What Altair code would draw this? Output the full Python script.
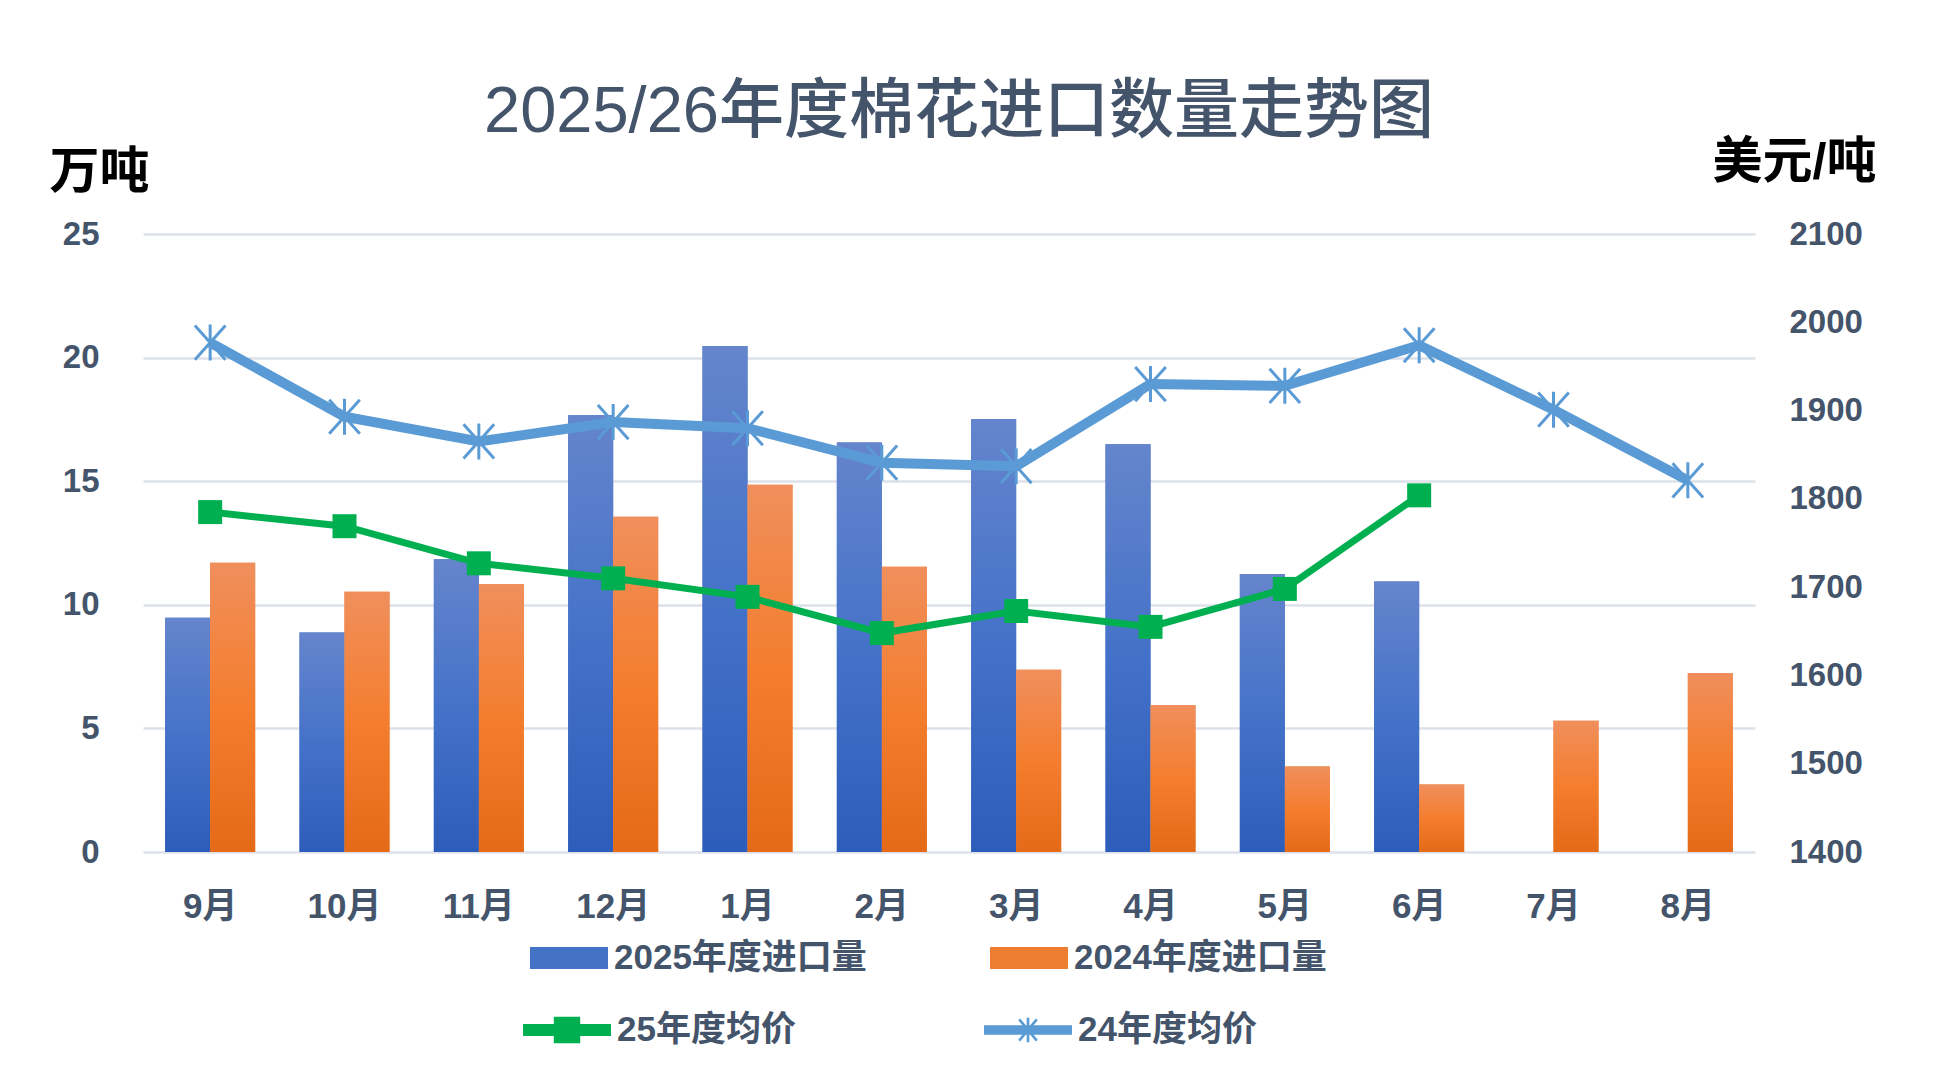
import altair as alt
import pandas as pd

# ---------------- data ----------------
months = ["9月", "10月", "11月", "12月", "1月", "2月", "3月", "4月", "5月", "6月", "7月", "8月"]
imports_2025 = [9.48, 8.88, 11.84, 17.67, 20.47, 16.57, 17.52, 16.49, 11.25, 10.94, None, None]
imports_2024 = [11.70, 10.53, 10.83, 13.56, 14.86, 11.54, 7.37, 5.94, 3.46, 2.73, 5.31, 7.24]
price_2025 = [1785, 1769, 1727, 1710, 1689, 1648, 1673, 1655, 1698, 1804, None, None]
price_2024 = [1977, 1893, 1865, 1887, 1880, 1841, 1837, 1930, 1928, 1974, 1901, 1821]

bar_series = ["2025年度进口量", "2024年度进口量"]
line_series = ["25年度均价", "24年度均价"]
left_ticks = [0, 5, 10, 15, 20, 25]
right_ticks = [1400, 1500, 1600, 1700, 1800, 1900, 2000, 2100]

title_text = "2025/26年度棉花进口数量走势图"
left_unit = "万吨"
right_unit = "美元/吨"

# ---------------- tables ----------------
bar_rows = []
for m, a, b in zip(months, imports_2025, imports_2024):
    if a is not None:
        bar_rows.append({"month": m, "series": bar_series[0], "value": a})
    if b is not None:
        bar_rows.append({"month": m, "series": bar_series[1], "value": b})
bars_df = pd.DataFrame(bar_rows)

line_rows = []
for m, a, b in zip(months, price_2025, price_2024):
    if a is not None:
        line_rows.append({"month": m, "series": line_series[0], "price": a})
    if b is not None:
        line_rows.append({"month": m, "series": line_series[1], "price": b})
lines_df = pd.DataFrame(line_rows)

FONT = "'Liberation Sans', 'Noto Sans CJK SC', sans-serif"
TXT = "#44546a"
GRID = "#dde2ea"
BLUE_BAR = "#4472c4"
ORANGE_BAR = "#ed7d31"
GREEN = "#00b050"
LBLUE = "#5b9bd5"

blue_grad = alt.Gradient(
    gradient="linear", x1=0, x2=0, y1=0, y2=1,
    stops=[alt.GradientStop(color="#6585cc", offset=0),
           alt.GradientStop(color="#4572c9", offset=0.5),
           alt.GradientStop(color="#2d5dba", offset=1)])
orange_grad = alt.Gradient(
    gradient="linear", x1=0, x2=0, y1=0, y2=1,
    stops=[alt.GradientStop(color="#f08f5c", offset=0),
           alt.GradientStop(color="#f47d2e", offset=0.5),
           alt.GradientStop(color="#e46a18", offset=1)])

x_enc = alt.X(
    "month:N", sort=months, title=None,
    scale=alt.Scale(paddingInner=0.33, paddingOuter=0.165),
    axis=alt.Axis(labelAngle=0, labelFont=FONT, labelFontSize=35, labelFontWeight="bold",
                  labelColor=TXT, labelPadding=37, ticks=False, tickSize=0, domain=False,
                  grid=False))
xoff_enc = alt.XOffset("series:N", sort=bar_series,
                       scale=alt.Scale(domain=bar_series, paddingInner=0, paddingOuter=0))

y_left = alt.Y(
    "value:Q", title=left_unit,
    scale=alt.Scale(domain=[0, 25], nice=False, zero=True),
    axis=alt.Axis(values=left_ticks, labelFont=FONT, labelFontSize=33, labelFontWeight="bold",
                  labelColor=TXT, labelPadding=44, ticks=False, tickSize=0, domain=False,
                  grid=True, gridColor=GRID, gridWidth=2.5,
                  titleAngle=0, titleX=-94, titleY=-47, titleAlign="left",
                  titleBaseline="alphabetic", titleFont=FONT, titleFontSize=50,
                  titleFontWeight="bold", titleColor="#000000"))

bar_legend = alt.Legend(
    orient="none", legendX=387, legendY=685, direction="horizontal", title=None,
    symbolType="M-1,-0.28H1V0.28H-1Z", symbolSize=6084, symbolStrokeWidth=0,
    labelFont=FONT, labelFontSize=35, labelFontWeight="bold", labelColor=TXT,
    labelOffset=6, columnPadding=123, padding=0, labelLimit=400)

bars_flat = alt.Chart(bars_df).mark_bar().encode(
    x=x_enc, xOffset=xoff_enc, y=y_left,
    color=alt.Color("series:N", sort=bar_series,
                    scale=alt.Scale(domain=bar_series, range=[BLUE_BAR, ORANGE_BAR]),
                    legend=bar_legend))

bars_2025 = alt.Chart(bars_df).transform_filter(
    alt.datum.series == bar_series[0]).mark_bar(color=blue_grad).encode(
    x=x_enc, xOffset=xoff_enc, y=y_left)
bars_2024 = alt.Chart(bars_df).transform_filter(
    alt.datum.series == bar_series[1]).mark_bar(color=orange_grad).encode(
    x=x_enc, xOffset=xoff_enc, y=y_left)

bars = alt.layer(bars_flat, bars_2025, bars_2024)

y_right = alt.Y(
    "price:Q", title=right_unit,
    scale=alt.Scale(domain=[1400, 2100], nice=False, zero=False),
    axis=alt.Axis(orient="right", values=right_ticks, format="d", labelFont=FONT,
                  labelFontSize=33, labelFontWeight="bold", labelColor=TXT, labelPadding=34,
                  ticks=False, tickSize=0, domain=False, grid=False,
                  titleAngle=0, titleX=121, titleY=-57, titleAlign="right",
                  titleBaseline="alphabetic", titleFont=FONT, titleFontSize=50,
                  titleFontWeight="bold", titleColor="#000000"))

# legend symbols (filled paths): line with square / line with asterisk
green_sym = "M-1,-0.136H1V0.136H-1Z M-0.3,-0.3H0.3V0.3H-0.3Z"
blue_sym = ("M-1,-0.11H1V0.11H-1Z "
            "M-0.03,-0.28H0.03V0.28H-0.03Z "
            "M-0.223,-0.221L-0.177,-0.259L0.223,0.221L0.177,0.259Z "
            "M0.223,-0.221L-0.177,0.259L-0.223,0.221L0.177,-0.259Z")

def line_legend(x, sym):
    return alt.Legend(
        orient="none", legendX=x, legendY=752, direction="horizontal", title=None,
        symbolType=sym, symbolSize=7744, symbolStrokeWidth=0, symbolOpacity=1,
        labelFont=FONT, labelFontSize=35, labelFontWeight="bold", labelColor=TXT,
        labelOffset=6, padding=0, labelLimit=400)

green_df = lines_df[lines_df["series"] == line_series[0]]
blue_df = lines_df[lines_df["series"] == line_series[1]]

legend_green = alt.Chart(green_df).mark_point(filled=True, opacity=0, size=10).encode(
    x=x_enc, y=y_right,
    color=alt.Color("series:N", scale=alt.Scale(domain=[line_series[0]], range=[GREEN]),
                    legend=line_legend(380, green_sym)))
legend_blue = alt.Chart(blue_df).mark_point(filled=True, opacity=0, size=10).encode(
    x=x_enc, y=y_right,
    fill=alt.Fill("series:N", scale=alt.Scale(domain=[line_series[1]], range=[LBLUE]),
                  legend=line_legend(841, blue_sym)))

green_line = alt.Chart(green_df).mark_line(color=GREEN, strokeWidth=7).encode(
    x=x_enc, y=y_right)
blue_line = alt.Chart(blue_df).mark_line(color=LBLUE, strokeWidth=10).encode(
    x=x_enc, y=y_right)

green_pts = alt.Chart(green_df).mark_point(
    shape="square", filled=True, size=576, color=GREEN, opacity=1).encode(
    x=x_enc, y=y_right)

star_path = "M0,-1V1M-0.85,-0.95L0.85,0.95M-0.85,0.95L0.85,-0.95"
blue_pts = alt.Chart(blue_df).mark_point(
    shape=star_path, filled=False, size=1296, color=LBLUE, strokeWidth=3,
    opacity=1).encode(x=x_enc, y=y_right)

lines = alt.layer(legend_green, legend_blue, blue_line, green_line, green_pts, blue_pts)

chart = alt.layer(bars, lines).resolve_scale(
    y="independent", color="independent", fill="independent"
).properties(
    width=1612, height=618,
    padding={"left": 135, "top": 226, "right": 170, "bottom": 200},
    autosize=alt.AutoSizeParams(type="none"),
    background="white",
    title=alt.TitleParams(text=title_text, font=FONT, fontSize=65, fontWeight=500,
                          color=TXT, anchor="middle", dx=10, dy=60, baseline="alphabetic",
                          offset=0)
).configure_view(stroke=None)

chart.save("out.html", embed_options={"renderer": "svg", "actions": False})
